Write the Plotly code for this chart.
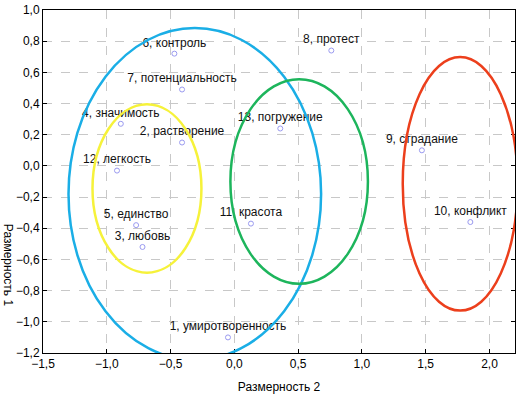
import plotly.graph_objects as go

# Data
labels = ["1, умиротворенность", "2, растворение", "3, любовь", "4, значимость",
          "5, единство", "6, контроль", "7, потенциальность", "8, протест",
          "9, страдание", "10, конфликт", "11, красота", "12, легкость", "13, погружение"]
dim2 = [-0.05, -0.41, -0.72, -0.89, -0.77, -0.47, -0.41, 0.76, 1.47, 1.85, 0.13, -0.92, 0.36]
dim1 = [-1.10, 0.15, -0.52, 0.27, -0.38, 0.72, 0.49, 0.74, 0.10, -0.36, -0.37, -0.03, 0.24]

# Ellipses: center x, center y, semi-axis x, semi-axis y
ell_cx = [-0.31, -0.685, 0.508, 1.77]
ell_cy = [-0.18, -0.145, -0.10, -0.115]
ell_rx = [0.99, 0.427, 0.539, 0.45]
ell_ry = [1.064, 0.54, 0.656, 0.813]
ell_colors = ["#1aaee6", "#f6f23a", "#1db55c", "#ec3f1c"]

fig = go.Figure()
fig.add_trace(go.Scatter(
    x=dim2, y=dim1, mode="markers+text", text=labels, textposition="top center",
    textfont=dict(family="Liberation Sans, Arial", size=12, color="#111"),
    marker=dict(symbol="circle-open", size=5, color="#9a9af0", line=dict(width=1)),
    showlegend=False, cliponaxis=False,
))

for cx, cy, rx, ry, c in zip(ell_cx, ell_cy, ell_rx, ell_ry, ell_colors):
    fig.add_shape(type="circle", xref="x", yref="y",
                  x0=cx - rx, x1=cx + rx, y0=cy - ry, y1=cy + ry,
                  line=dict(color=c, width=2.5), layer="above")

fig.add_annotation(text="Размерность 1", textangle=90, xref="paper", yref="paper",
                   x=-0.074, y=0.257, xanchor="center", yanchor="middle",
                   showarrow=False, font=dict(size=12, color="#000"))

fig.update_layout(
    width=524, height=396,
    margin=dict(l=43, r=9, t=10, b=43),
    paper_bgcolor="white", plot_bgcolor="white",
    separators=", ",
    font=dict(family="Liberation Sans, Arial", size=12, color="#000"),
)
fig.update_xaxes(
    range=[-1.5, 2.2], dtick=0.5, tick0=-1.5, tickformat=".1f", automargin=False,
    showgrid=True, gridcolor="#c8c8c8", griddash="dash", gridwidth=1,
    zeroline=False, showline=True, linecolor="#000", linewidth=1, mirror=True,
    ticks="inside", ticklen=4, tickcolor="#000",
    title=dict(text="Размерность 2", standoff=12, font=dict(size=12)),
)
fig.update_yaxes(
    range=[-1.2, 1.0], dtick=0.2, tick0=-1.2, tickformat=".1f", automargin=False,
    showgrid=True, gridcolor="#c8c8c8", griddash="dash", gridwidth=1,
    zeroline=False, showline=True, linecolor="#000", linewidth=1, mirror="ticks",
    ticks="inside", ticklen=4, tickcolor="#000",
)

fig.write_html("out.html", config={"displayModeBar": False},
               post_script="document.body.style.margin='0';document.body.style.overflow='hidden';")
